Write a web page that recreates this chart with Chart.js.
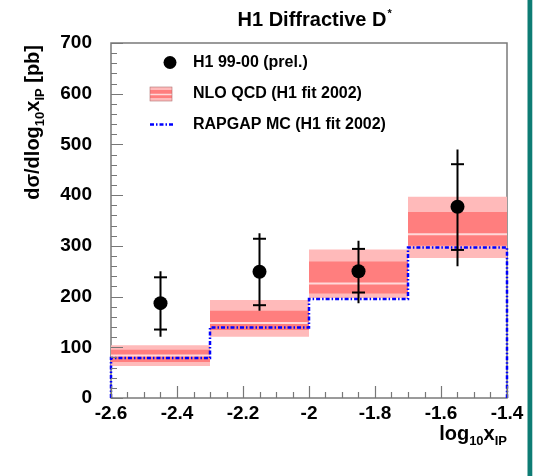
<!DOCTYPE html>
<html>
<head>
<meta charset="utf-8">
<script src="https://cdn.jsdelivr.net/npm/chart.js@4.4.1/dist/chart.umd.min.js"></script>
<style>
  html, body { margin: 0; padding: 0; background: #fff; }
</style>
</head>
<body>
<canvas id="myChart" width="534" height="476"></canvas>
<script>
const binEdges = [-2.6, -2.3, -2.0, -1.7, -1.4];
const binCenters = [-2.45, -2.15, -1.85, -1.55];
const xTickLabels = ['-2.6', '-2.4', '-2.2', '-2', '-1.8', '-1.6', '-1.4'];

// H1 99-00 (prel.) : value, inner (stat) and outer (total) error ends
const h1Values = [187, 249, 250, 377];
const h1StatUp = [238, 314, 294, 461];
const h1StatDown = [135, 183, 208, 292];
const h1TotUp = [250, 325, 310, 490];
const h1TotDown = [121, 172, 187, 260];

// NLO QCD (H1 fit 2002)
const nloCentral = [84, 148, 226, 323];
const nloInnerUp = [95, 172, 269, 367];
const nloInnerDown = [71, 134, 206, 300];
const nloOuterUp = [104, 193, 293, 397];
const nloOuterDown = [63, 121, 197, 276];

// RAPGAP MC (H1 fit 2002)
const rapgap = [79, 139, 195, 297];

const FONT = '"Liberation Sans", Arial, Helvetica, sans-serif';
const LIGHT = '#ffbaba';
const DARK = '#ff7e7e';

// histogram outline through the bin edges
function steps(vals) {
  const pts = [];
  vals.forEach((v, i) => {
    pts.push({x: binEdges[i], y: v}, {x: binEdges[i + 1], y: v});
  });
  return pts;
}
// separate horizontal pieces, no vertical joins
function pieces(vals) {
  const pts = [];
  vals.forEach((v, i) => {
    pts.push({x: binEdges[i], y: v}, {x: binEdges[i + 1], y: v}, {x: binEdges[i + 1], y: null});
  });
  return pts;
}

const lineBase = {showLine: true, pointRadius: 0, pointHoverRadius: 0, spanGaps: false};

const decor = {
  id: 'decor',
  beforeDraw(chart) {
    const ctx = chart.ctx;
    ctx.save();
    ctx.fillStyle = '#fff';
    ctx.fillRect(0, 0, chart.width, chart.height);
    ctx.fillStyle = '#0e7c74';
    ctx.fillRect(527.5, 0, 4.8, chart.height);
    ctx.restore();
  },
  beforeDatasetsDraw(chart) {
    const ctx = chart.ctx;
    const {left, right, top, bottom} = chart.chartArea;
    ctx.save();
    ctx.strokeStyle = '#7a7a7a';
    ctx.lineWidth = 1.5;
    ctx.strokeRect(left, top, right - left, bottom - top);
    ctx.restore();
  },
  afterDatasetsDraw(chart) {
    const ctx = chart.ctx;
    const {left, bottom} = chart.chartArea;
    const xs = chart.scales.x, ys = chart.scales.y;
    ctx.save();
    ctx.strokeStyle = '#777';
    ctx.lineWidth = 1.2;
    ctx.beginPath();
    for (let v = 0; v <= 700; v += 20) {
      const y = Math.round(ys.getPixelForValue(v)) + 0.5;
      const len = v % 100 === 0 ? 12 : 6;
      ctx.moveTo(left, y); ctx.lineTo(left + len, y);
    }
    for (let i = 0; i <= 24; i++) {
      const x = Math.round(xs.getPixelForValue(-2.6 + i * 0.05)) + 0.5;
      const len = i % 4 === 0 ? 12 : 6;
      ctx.moveTo(x, bottom); ctx.lineTo(x, bottom - len);
    }
    ctx.stroke();
    ctx.restore();
  },
  afterDraw(chart) {
    const ctx = chart.ctx;
    const {right} = chart.chartArea;
    ctx.save();
    ctx.fillStyle = '#000';
    ctx.textBaseline = 'alphabetic';

    // title
    ctx.font = 'bold 20px ' + FONT;
    const t = 'H1 Diffractive D';
    const tw = ctx.measureText(t).width;
    const tx = 312 - tw / 2;
    ctx.fillText(t, tx, 26);
    ctx.font = 'bold 11px ' + FONT;
    ctx.fillText('*', tx + tw + 1, 17);

    // rich text helper: parts drawn along +x from (x0, 0)
    function rich(parts, x0) {
      let x = x0;
      parts.forEach(p => {
        ctx.font = 'bold ' + p.size + 'px ' + FONT;
        ctx.fillText(p.text, x, p.dy);
        x += ctx.measureText(p.text).width;
      });
    }
    function richWidth(parts) {
      let w = 0;
      parts.forEach(p => {
        ctx.font = 'bold ' + p.size + 'px ' + FONT;
        w += ctx.measureText(p.text).width;
      });
      return w;
    }

    // y axis title, rotated, ending at the top of the frame
    const yParts = [
      {text: 'dσ/dlog', size: 20, dy: 0},
      {text: '10', size: 13, dy: 5},
      {text: 'x', size: 20, dy: 0},
      {text: 'IP', size: 13, dy: 5},
      {text: ' [pb]', size: 20, dy: 0}
    ];
    ctx.save();
    ctx.translate(38.5, 45);
    ctx.rotate(-Math.PI / 2);
    rich(yParts, -richWidth(yParts));
    ctx.restore();

    // x axis title, right aligned
    const xParts = [
      {text: 'log', size: 20, dy: 0},
      {text: '10', size: 13, dy: 5},
      {text: 'x', size: 20, dy: 0},
      {text: 'IP', size: 13, dy: 5}
    ];
    ctx.save();
    ctx.translate(right, 440);
    rich(xParts, -richWidth(xParts));
    ctx.restore();

    // legend
    ctx.font = 'bold 16px ' + FONT;
    ctx.textBaseline = 'middle';
    ctx.beginPath();
    ctx.arc(170, 62.5, 6.5, 0, Math.PI * 2);
    ctx.fill();
    ctx.fillText('H1 99-00 (prel.)', 193, 63);

    ctx.fillStyle = LIGHT;
    ctx.fillRect(150, 87, 22, 14);
    ctx.fillStyle = DARK;
    ctx.fillRect(150, 90, 22, 8);
    ctx.strokeStyle = '#ffd9d9';
    ctx.lineWidth = 1.5;
    ctx.beginPath(); ctx.moveTo(150, 94.5); ctx.lineTo(172, 94.5); ctx.stroke();
    ctx.strokeStyle = '#b07070';
    ctx.lineWidth = 0.6;
    ctx.strokeRect(150, 87, 22, 14);
    ctx.fillStyle = '#000';
    ctx.fillText('NLO QCD (H1 fit 2002)', 193, 94);

    ctx.strokeStyle = '#0000ff';
    ctx.lineWidth = 2.5;
    ctx.setLineDash([4, 2, 1.5, 2]);
    ctx.beginPath(); ctx.moveTo(150, 124.5); ctx.lineTo(173, 124.5); ctx.stroke();
    ctx.setLineDash([]);
    ctx.fillText('RAPGAP MC (H1 fit 2002)', 193, 125);
    ctx.restore();
  }
};

new Chart(document.getElementById('myChart'), {
  type: 'scatter',
  data: {
    datasets: [
      {...lineBase, data: steps(nloOuterUp), borderColor: 'rgba(0,0,0,0)', fill: false, order: 9},
      {...lineBase, data: steps(nloOuterDown), borderColor: 'rgba(0,0,0,0)', backgroundColor: LIGHT, fill: '-1', order: 8},
      {...lineBase, data: steps(nloInnerUp), borderColor: 'rgba(0,0,0,0)', fill: false, order: 7},
      {...lineBase, data: steps(nloInnerDown), borderColor: 'rgba(0,0,0,0)', backgroundColor: DARK, fill: '-1', order: 6},
      {...lineBase, data: pieces(nloCentral), borderColor: '#ffd9d9', borderWidth: 2, fill: false, order: 5},
      {...lineBase,
        data: [{x: binEdges[0], y: 0}, ...steps(rapgap), {x: binEdges[binEdges.length - 1], y: 0}],
        borderColor: '#0000ff', borderWidth: 2.5, borderDash: [4, 2, 1.5, 2], fill: false, clip: 4, order: 4},
      {...lineBase,
        data: binCenters.flatMap((x, i) => [{x, y: h1TotDown[i]}, {x, y: h1TotUp[i]}, {x, y: null}]),
        borderColor: '#000', borderWidth: 2, fill: false, order: 3},
      {data: binCenters.flatMap((x, i) => [{x, y: h1StatDown[i]}, {x, y: h1StatUp[i]}]),
        showLine: false, pointStyle: 'line', pointRadius: 6.5, pointHoverRadius: 6.5,
        borderColor: '#000', borderWidth: 2, order: 2},
      {data: binCenters.map((x, i) => ({x, y: h1Values[i]})),
        showLine: false, pointRadius: 7, pointHoverRadius: 7,
        backgroundColor: '#000', borderColor: '#000', borderWidth: 0, order: 1}
    ]
  },
  options: {
    responsive: false,
    animation: false,
    devicePixelRatio: 1,
    layout: {padding: {top: 43, right: 27, left: 0, bottom: 0}},
    plugins: {legend: {display: false}, tooltip: {enabled: false}},
    scales: {
      x: {
        type: 'linear', min: -2.6, max: -1.4,
        grid: {display: false, drawTicks: false},
        border: {display: false},
        ticks: {
          stepSize: 0.2, autoSkip: false, maxRotation: 0, padding: 4, color: '#000',
          font: {family: FONT, size: 19, weight: 'bold'},
          callback: (v, i) => xTickLabels[i]
        },
        afterFit: s => { s.height = 78; }
      },
      y: {
        min: 0, max: 700,
        grid: {display: false, drawTicks: false},
        border: {display: false},
        ticks: {
          stepSize: 100, padding: 19, color: '#000',
          font: {family: FONT, size: 19, weight: 'bold'}
        },
        afterFit: s => { s.width = 111; }
      }
    }
  },
  plugins: [decor]
});
</script>
</body>
</html>
